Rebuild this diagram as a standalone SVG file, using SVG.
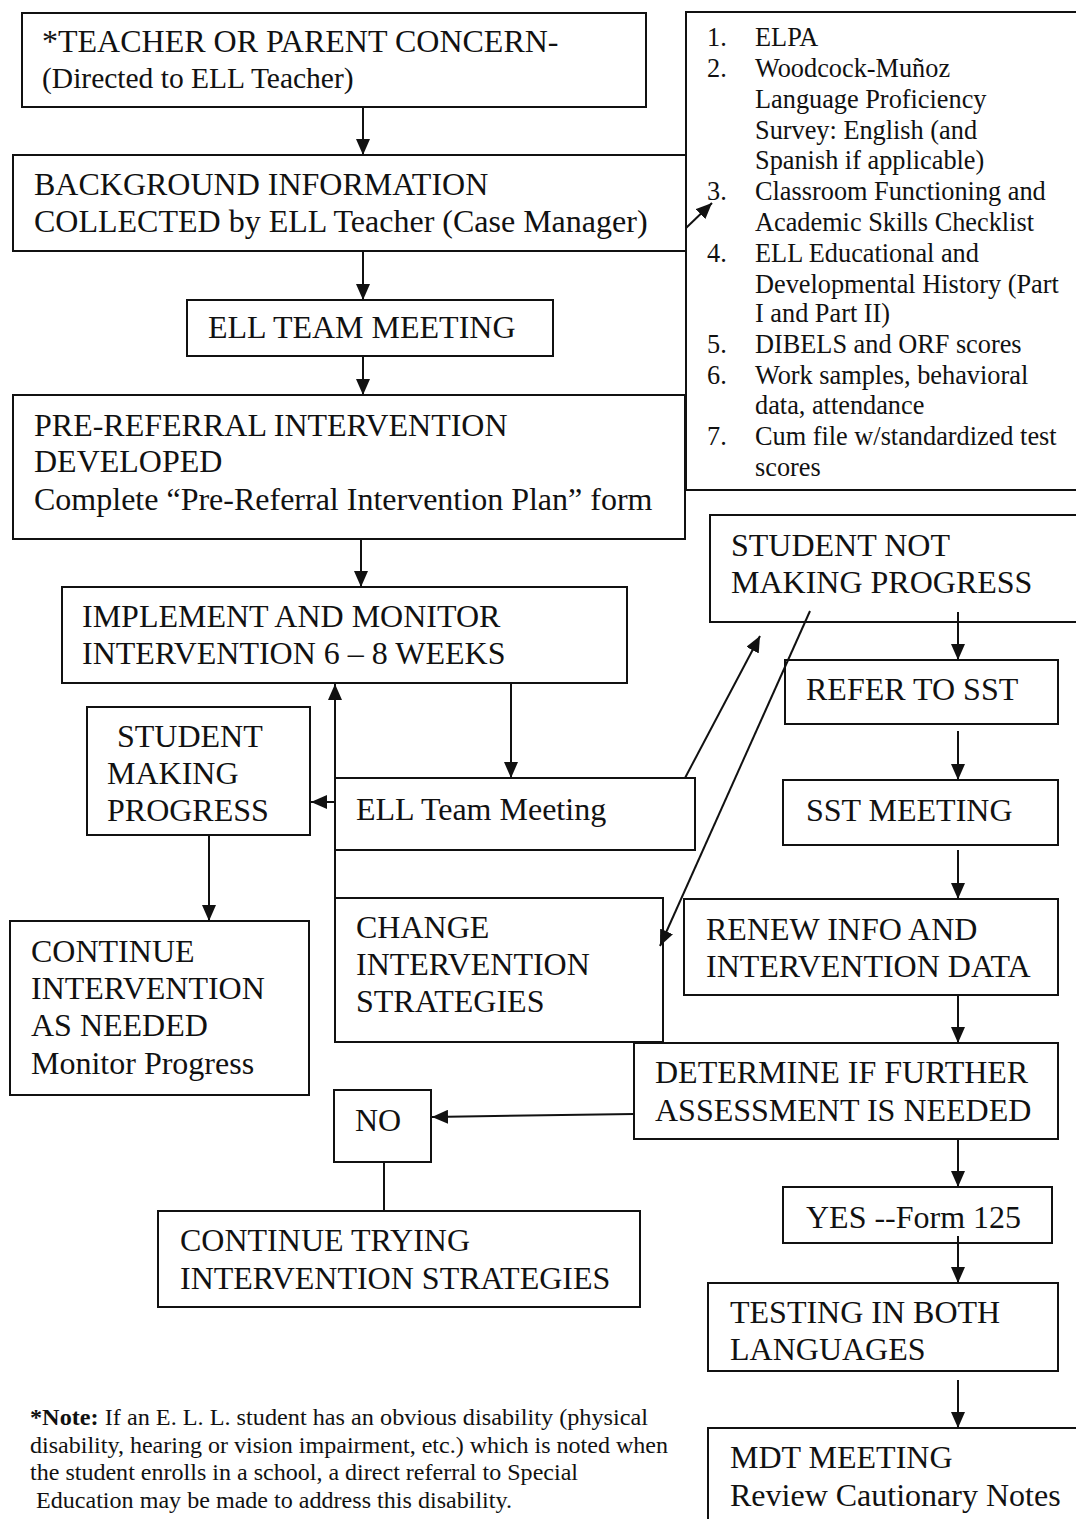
<svg xmlns="http://www.w3.org/2000/svg" width="1076" height="1519" viewBox="0 0 1076 1519">
<style>
.b{fill:#fff;stroke:#111;stroke-width:2}
.t{font-family:"Liberation Serif","Times New Roman",serif;font-size:32px;fill:#111}
.l{font-family:"Liberation Serif","Times New Roman",serif;font-size:26.3px;fill:#111}
.n{font-family:"Liberation Serif","Times New Roman",serif;font-size:23px;fill:#111}
.c{fill:none;stroke:#111;stroke-width:2}
</style>
<defs>
<marker id="ah" viewBox="0 0 16 14" refX="16" refY="7" markerWidth="16" markerHeight="14" orient="auto" markerUnits="userSpaceOnUse"><path d="M0,0 L16,7 L0,14 z" fill="#111"/></marker>
</defs>
<rect width="1076" height="1519" fill="#fff"/>

<g id="n1"><rect class="b" x="22" y="13" width="624" height="94"/>
<text class="t" x="42" y="52">*TEACHER OR PARENT CONCERN-</text>
<text class="t" x="42" y="88" style="font-size:29.5px">(Directed to ELL Teacher)</text></g>

<g id="nList"><path class="b" d="M1080,12 H686 V490 H1080"/>
<text class="l" x="707" y="46">1.</text><text class="l" x="755" y="46">ELPA</text>
<text class="l" x="707" y="77">2.</text><text class="l" x="755" y="77">Woodcock-Muñoz</text>
<text class="l" x="755" y="108">Language Proficiency</text>
<text class="l" x="755" y="139">Survey: English (and</text>
<text class="l" x="755" y="169">Spanish if applicable)</text>
<text class="l" x="707" y="200">3.</text><text class="l" x="755" y="200">Classroom Functioning and</text>
<text class="l" x="755" y="231">Academic Skills Checklist</text>
<text class="l" x="707" y="262">4.</text><text class="l" x="755" y="262">ELL Educational and</text>
<text class="l" x="755" y="293">Developmental History (Part</text>
<text class="l" x="755" y="322">I and Part II)</text>
<text class="l" x="707" y="353">5.</text><text class="l" x="755" y="353">DIBELS and ORF scores</text>
<text class="l" x="707" y="384">6.</text><text class="l" x="755" y="384">Work samples, behavioral</text>
<text class="l" x="755" y="414">data, attendance</text>
<text class="l" x="707" y="445">7.</text><text class="l" x="755" y="445">Cum file w/standardized test</text>
<text class="l" x="755" y="476">scores</text></g>

<g id="n2"><rect class="b" x="13" y="155" width="673" height="96"/>
<text class="t" x="34" y="195">BACKGROUND INFORMATION</text>
<text class="t" x="34" y="232">COLLECTED by ELL Teacher (Case Manager)</text></g>

<g id="n3"><rect class="b" x="187" y="300" width="366" height="56"/>
<text class="t" x="208" y="338">ELL TEAM MEETING</text></g>

<g id="n4"><rect class="b" x="13" y="395" width="672" height="144"/>
<text class="t" x="34" y="436">PRE-REFERRAL INTERVENTION</text>
<text class="t" x="34" y="472">DEVELOPED</text>
<text class="t" x="34" y="510">Complete “Pre-Referral Intervention Plan” form</text></g>

<g id="n5"><rect class="b" x="62" y="587" width="565" height="96"/>
<text class="t" x="82" y="627">IMPLEMENT AND MONITOR</text>
<text class="t" x="82" y="664">INTERVENTION 6 – 8 WEEKS</text></g>

<g id="n6"><rect class="b" x="87" y="707" width="223" height="128"/>
<text class="t" x="117" y="747">STUDENT</text>
<text class="t" x="107" y="784">MAKING</text>
<text class="t" x="107" y="821">PROGRESS</text></g>

<g id="n7"><rect class="b" x="335" y="778" width="360" height="72"/>
<text class="t" x="356" y="820">ELL Team Meeting</text></g>

<g id="n8"><rect class="b" x="10" y="921" width="299" height="174"/>
<text class="t" x="31" y="962">CONTINUE</text>
<text class="t" x="31" y="999">INTERVENTION</text>
<text class="t" x="31" y="1036">AS NEEDED</text>
<text class="t" x="31" y="1074">Monitor Progress</text></g>

<g id="n9"><rect class="b" x="335" y="898" width="328" height="144"/>
<text class="t" x="356" y="938">CHANGE</text>
<text class="t" x="356" y="975">INTERVENTION</text>
<text class="t" x="356" y="1012">STRATEGIES</text></g>

<g id="n10"><path class="b" d="M1080,515 H710 V622 H1080"/>
<text class="t" x="731" y="556">STUDENT NOT</text>
<text class="t" x="731" y="593">MAKING PROGRESS</text></g>

<g id="n11"><rect class="b" x="785" y="660" width="273" height="64"/>
<text class="t" x="806" y="700">REFER TO SST</text></g>

<g id="n12"><rect class="b" x="783" y="780" width="275" height="65"/>
<text class="t" x="806" y="821">SST MEETING</text></g>

<g id="n13"><rect class="b" x="684" y="899" width="374" height="96"/>
<text class="t" x="706" y="940">RENEW INFO AND</text>
<text class="t" x="706" y="977">INTERVENTION DATA</text></g>

<g id="n14"><rect class="b" x="634" y="1043" width="424" height="96"/>
<text class="t" x="655" y="1083">DETERMINE IF FURTHER</text>
<text class="t" x="655" y="1121">ASSESSMENT IS NEEDED</text></g>

<g id="n15"><rect class="b" x="334" y="1090" width="97" height="72"/>
<text class="t" x="355" y="1131">NO</text></g>

<g id="n16"><rect class="b" x="158" y="1211" width="482" height="96"/>
<text class="t" x="180" y="1251">CONTINUE TRYING</text>
<text class="t" x="180" y="1289">INTERVENTION STRATEGIES</text></g>

<g id="n17"><rect class="b" x="783" y="1187" width="269" height="56"/>
<text class="t" x="806" y="1228">YES --Form 125</text></g>

<g id="n18"><rect class="b" x="708" y="1283" width="350" height="88"/>
<text class="t" x="730" y="1323">TESTING IN BOTH</text>
<text class="t" x="730" y="1360">LANGUAGES</text></g>

<g id="n19"><path class="b" d="M708,1530 V1428 H1080"/>
<text class="t" x="730" y="1468">MDT MEETING</text>
<text class="t" x="730" y="1506">Review Cautionary Notes</text></g>

<g id="note">
<text class="n" x="30" y="1425" textLength="618" lengthAdjust="spacingAndGlyphs"><tspan font-weight="bold">*Note:</tspan>  If an E. L. L. student has an obvious disability (physical</text>
<text class="n" x="30" y="1453" textLength="638" lengthAdjust="spacingAndGlyphs">disability, hearing or vision impairment, etc.) which is noted when</text>
<text class="n" x="30" y="1480" textLength="548" lengthAdjust="spacingAndGlyphs">the student enrolls in a school, a direct referral to Special</text>
<text class="n" x="36" y="1508" textLength="476" lengthAdjust="spacingAndGlyphs">Education may be made to address this disability.</text>
</g>

<g id="connectors">
<line class="c" x1="363" y1="107" x2="363" y2="155" marker-end="url(#ah)"/>
<line class="c" x1="686" y1="228" x2="712" y2="203" marker-end="url(#ah)"/>
<line class="c" x1="363" y1="251" x2="363" y2="300" marker-end="url(#ah)"/>
<line class="c" x1="363" y1="356" x2="363" y2="395" marker-end="url(#ah)"/>
<line class="c" x1="361" y1="539" x2="361" y2="587" marker-end="url(#ah)"/>
<line class="c" x1="511" y1="683" x2="511" y2="778" marker-end="url(#ah)"/>
<line class="c" x1="335" y1="802" x2="311" y2="802" marker-end="url(#ah)"/>
<line class="c" x1="335" y1="898" x2="335" y2="684" marker-end="url(#ah)"/>
<line class="c" x1="209" y1="835" x2="209" y2="921" marker-end="url(#ah)"/>
<line class="c" x1="685" y1="778" x2="760" y2="636" marker-end="url(#ah)"/>
<line class="c" x1="810" y1="611" x2="660" y2="946" marker-end="url(#ah)"/>
<line class="c" x1="958" y1="612" x2="958" y2="660" marker-end="url(#ah)"/>
<line class="c" x1="958" y1="731" x2="958" y2="780" marker-end="url(#ah)"/>
<line class="c" x1="958" y1="850" x2="958" y2="899" marker-end="url(#ah)"/>
<line class="c" x1="958" y1="995" x2="958" y2="1043" marker-end="url(#ah)"/>
<line class="c" x1="634" y1="1114" x2="432" y2="1117" marker-end="url(#ah)"/>
<line class="c" x1="384" y1="1162" x2="384" y2="1211"/>
<line class="c" x1="958" y1="1139" x2="958" y2="1187" marker-end="url(#ah)"/>
<line class="c" x1="958" y1="1236" x2="958" y2="1283" marker-end="url(#ah)"/>
<line class="c" x1="958" y1="1380" x2="958" y2="1428" marker-end="url(#ah)"/>
</g>
</svg>
